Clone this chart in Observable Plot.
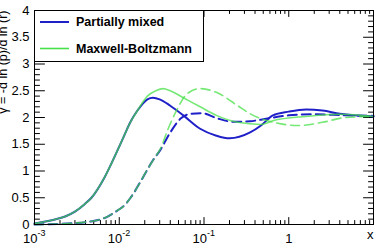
<!DOCTYPE html>
<html>
<head>
<meta charset="utf-8">
<script src="https://cdn.jsdelivr.net/npm/d3@7"></script>
<script src="https://cdn.jsdelivr.net/npm/@observablehq/plot@0.6"></script>
<style>
  html, body { margin: 0; padding: 0; background: #fff; }
  svg { display: block; }
</style>
</head>
<body>
<div id="chart"></div>
<script>
// Partially mixed, solid curve
const mixedSolidX = [0.001, 0.0013, 0.0017, 0.0023, 0.003, 0.0039, 0.0047, 0.0067, 0.0095, 0.0112, 0.0136, 0.0164, 0.0215, 0.025, 0.03, 0.04, 0.057, 0.09, 0.14, 0.2, 0.35, 0.47, 0.65, 1, 1.6, 2.5, 4, 6, 10];
const mixedSolidY = [0.02, 0.05, 0.09, 0.15, 0.24, 0.38, 0.50, 0.88, 1.38, 1.63, 1.92, 2.13, 2.34, 2.37, 2.34, 2.22, 2.04, 1.79, 1.66, 1.61, 1.72, 1.85, 2.04, 2.11, 2.15, 2.13, 2.07, 2.04, 2.02];

// Partially mixed, dashed curve
const mixedDashX = [0.001, 0.0025, 0.0051, 0.0069, 0.0081, 0.0095, 0.0112, 0.0136, 0.0178, 0.021, 0.025, 0.0307, 0.04, 0.053, 0.07, 0.095, 0.14, 0.22, 0.35, 0.47, 1, 2, 4.7, 10];
const mixedDashY = [0.00, 0.02, 0.07, 0.13, 0.19, 0.26, 0.34, 0.50, 0.80, 1.00, 1.20, 1.40, 1.72, 1.98, 2.07, 2.08, 1.99, 1.92, 1.93, 1.96, 2.04, 2.06, 2.04, 2.03];

// Maxwell-Boltzmann, solid curve
const mbSolidX = [0.001, 0.0013, 0.0017, 0.0023, 0.003, 0.0039, 0.0047, 0.0067, 0.0095, 0.0112, 0.0136, 0.0164, 0.0215, 0.027, 0.033, 0.04, 0.057, 0.09, 0.14, 0.25, 0.47, 0.65, 1.6, 4, 10];
const mbSolidY = [0.02, 0.05, 0.09, 0.15, 0.24, 0.38, 0.50, 0.88, 1.38, 1.63, 1.92, 2.13, 2.40, 2.50, 2.54, 2.50, 2.37, 2.20, 2.04, 1.91, 1.87, 1.94, 2.02, 2.06, 2.02];

// Maxwell-Boltzmann, dashed curve
const mbDashX = [0.001, 0.0025, 0.0051, 0.0069, 0.0081, 0.0095, 0.0112, 0.0136, 0.0178, 0.021, 0.025, 0.0307, 0.038, 0.046, 0.064, 0.09, 0.14, 0.25, 0.35, 0.47, 0.7, 1.3, 2.5, 4.7, 10];
const mbDashY = [0.00, 0.02, 0.07, 0.13, 0.19, 0.26, 0.34, 0.50, 0.80, 1.00, 1.20, 1.42, 1.80, 2.09, 2.45, 2.54, 2.47, 2.22, 2.07, 1.98, 1.90, 1.85, 1.91, 2.00, 2.02];

// Axis ticks and labels
const xMajorTicks = [0.001, 0.01, 0.1, 1, 10];
const xLabelValues = [0.001, 0.01, 0.1];
const xLabelBase = ["10", "10", "10"];
const xLabelExp = ["-3", "-2", "-1"];
const xPlainValues = [1];
const xPlainLabels = ["1"];
const yMajorTicks = [0, 0.5, 1, 1.5, 2, 2.5, 3, 3.5, 4];
const yTickLabels = ["0", "0.5", "1", "1.5", "2", "2.5", "3", "3.5", "4"];
const yTitle = "γ = -d ln (p)/d ln (r)";
const xTitle = "x";

const legendLabels = ["Partially mixed", "Maxwell-Boltzmann"];
const blue = "#2020c8";
const green = "#48e048";

const rows = (xs, ys) => xs.map((x, i) => ({x, y: ys[i]}));

const xMinorTicks = d3.scaleLog().domain([0.001, 10]).ticks().filter(v => !xMajorTicks.some(m => Math.abs(m - v) / m < 1e-9));
const yMinorTicks = d3.range(0, 41).map(i => i / 10).filter(v => !yMajorTicks.some(m => Math.abs(m - v) < 1e-9));

// A plain tick stroke, drawn from the anchor point outward
const tickShape = {draw(ctx, l) { ctx.moveTo(0, 0); ctx.lineTo(0, -l); }};
const ticks = (data, opts) => Plot.vector(data, {anchor: "start", shape: tickShape, stroke: "black", strokeWidth: 1, ...opts});

const font = "'Liberation Sans', Arial, sans-serif";

const svg = Plot.plot({
  width: 377,
  height: 252,
  marginLeft: 34,
  marginRight: 4,
  marginTop: 10,
  marginBottom: 28,
  style: {fontFamily: font, fontSize: "13px", background: "white", color: "black"},
  x: {type: "log", domain: [0.001, 10], axis: null},
  y: {domain: [0, 4], axis: null},
  marks: [
    // inward ticks on all four sides
    ticks(xMajorTicks, {x: d => d, y: 0, length: 7, rotate: 0}),
    ticks(xMinorTicks, {x: d => d, y: 0, length: 4, rotate: 0}),
    ticks(xMajorTicks, {x: d => d, y: 4, length: 6, rotate: 180}),
    ticks(xMinorTicks, {x: d => d, y: 4, length: 3, rotate: 180}),
    ticks(yMajorTicks, {x: 0.001, y: d => d, length: 10, rotate: 90}),
    ticks(yMinorTicks, {x: 0.001, y: d => d, length: 5, rotate: 90}),
    ticks(yMajorTicks, {x: 10, y: d => d, length: 10, rotate: -90}),
    ticks(yMinorTicks, {x: 10, y: d => d, length: 5, rotate: -90}),

    // curves
    Plot.line(rows(mixedDashX, mixedDashY), {x: "x", y: "y", stroke: blue, strokeWidth: 2, strokeDasharray: "9,5", curve: "monotone-x"}),
    Plot.line(rows(mixedSolidX, mixedSolidY), {x: "x", y: "y", stroke: blue, strokeWidth: 2, curve: "monotone-x"}),
    Plot.line(rows(mbDashX, mbDashY), {x: "x", y: "y", stroke: green, strokeWidth: 1.6, strokeOpacity: 0.75, strokeDasharray: "9,5", curve: "monotone-x"}),
    Plot.line(rows(mbSolidX, mbSolidY), {x: "x", y: "y", stroke: green, strokeWidth: 1.6, strokeOpacity: 0.75, curve: "monotone-x"}),

    Plot.frame({stroke: "black", strokeWidth: 1}),

    // tick labels
    Plot.text(yMajorTicks, {x: 0.001, y: d => d, text: (d, i) => yTickLabels[i], textAnchor: "end", dx: -5, fontSize: 13}),
    Plot.text(xLabelValues, {x: d => d, y: 0, text: (d, i) => xLabelBase[i], textAnchor: "end", dx: 3, dy: 14, fontSize: 13}),
    Plot.text(xLabelValues, {x: d => d, y: 0, text: (d, i) => xLabelExp[i], textAnchor: "start", dx: 3, dy: 9, fontSize: 9}),
    Plot.text(xPlainValues, {x: d => d, y: 0, text: (d, i) => xPlainLabels[i], textAnchor: "middle", dy: 14, fontSize: 13}),
    Plot.text([xTitle], {frameAnchor: "bottom-right", text: d => d, textAnchor: "end", dy: 14, fontSize: 13}),
    Plot.text([yTitle], {frameAnchor: "top-left", text: d => d, rotate: -90, textAnchor: "end", lineAnchor: "bottom", dx: -28, dy: 0, fontSize: 12.5})
  ]
});

// Legend box in the upper-left corner of the frame
const lg = d3.select(svg).append("g").attr("font-family", font).attr("text-anchor", "start");
lg.append("rect").attr("x", 34.5).attr("y", 10.5).attr("width", 169).attr("height", 51)
  .attr("fill", "white").attr("stroke", "black").attr("stroke-width", 1);
const legendStyle = [{stroke: blue, width: 2}, {stroke: green, width: 1.6}];
legendLabels.forEach((label, i) => {
  const cy = 22 + i * 26.5;
  lg.append("line").attr("x1", 40).attr("x2", 69).attr("y1", cy).attr("y2", cy)
    .attr("stroke", legendStyle[i].stroke).attr("stroke-width", legendStyle[i].width);
  lg.append("text").attr("x", 76).attr("y", cy).attr("dy", "0.35em").attr("text-anchor", "start")
    .attr("font-size", 12.5).attr("font-weight", "bold").attr("fill", "black").text(label);
});

document.getElementById("chart").appendChild(svg);
</script>
</body>
</html>
